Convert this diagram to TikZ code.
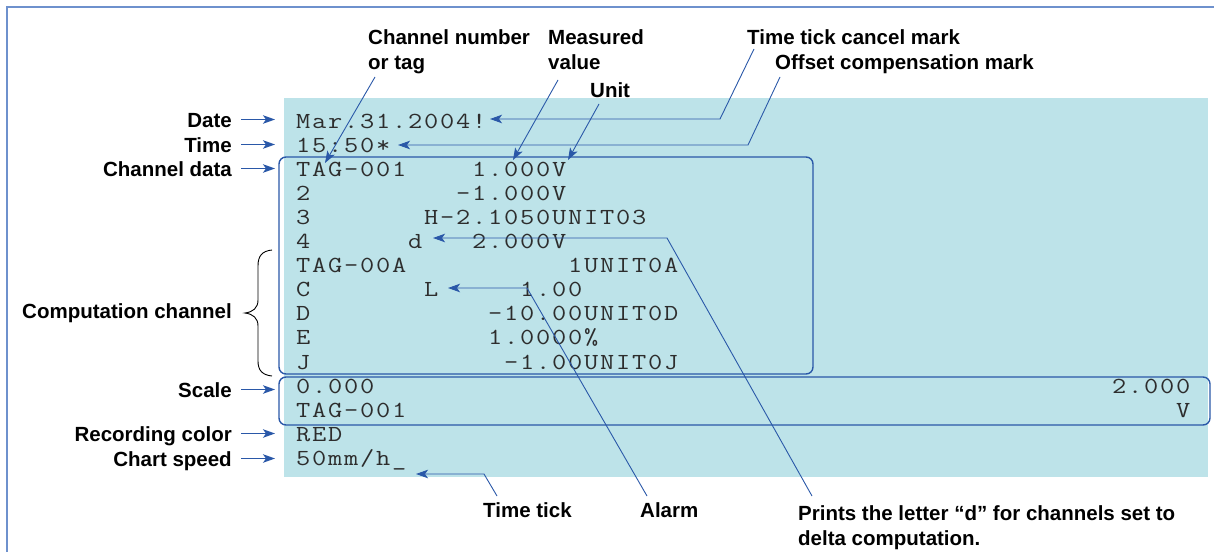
\documentclass[tikz,border=0pt]{standalone}
\usepackage{fontspec}
\usepackage{graphicx}
\setmainfont{Liberation Sans}
\usetikzlibrary{arrows.meta,calc}
\definecolor{panel}{RGB}{189,227,233}
\definecolor{lineblue}{RGB}{42,88,168}
\definecolor{frameblue}{RGB}{110,145,205}
\definecolor{txt}{RGB}{45,45,45}
\newlength\cellw \setlength\cellw{16pt}
\makeatletter
\newcommand\cells[1]{\@tfor\@cc:=#1\do{\makebox[\cellw][c]{\scalebox{1.2}[1]{\@cc}}}}
\makeatother
\newcommand\putmono[4]{\node[mono] (#1) at ({295+16*#2},{128+24.1*#3}) {\cells{#4}};}
\tikzset{
  mono/.style={anchor=base west, inner sep=0pt, text=txt, font=\ttfamily\fontsize{23}{23}\selectfont},
  lab/.style={inner sep=0pt, text=black, font=\bfseries\fontsize{20.5}{25}\selectfont},
  conn/.style={draw=lineblue, line width=1.1pt, -{Stealth[length=12pt,width=8.5pt,inset=3pt]}},
  thin conn/.style={draw=lineblue, line width=0.9pt, -{Stealth[length=12pt,width=8.5pt,inset=3pt]}},
  boxline/.style={draw=lineblue, line width=1.4pt, rounded corners=7pt},
}
\begin{document}
\begin{tikzpicture}[x=1pt,y=-1pt]
\useasboundingbox (0,0) rectangle (1214,551);
\clip (0,0) rectangle (1214,551);
% frame
\draw[frameblue, line width=1.6pt] (7,7) rectangle (1218,565);
% panel
\fill[panel] (284,98) rectangle (1208,477);
% boxes
\draw[boxline] (279,157) rectangle (813,374);
\draw[boxline] (279,377) rectangle (1210,425);
% mono text
\putmono{l0}{0}{0}{Mar.31.2004!}
\putmono{l1}{0}{1}{15:50*}
\putmono{l2a}{0}{2}{TAG-001}
\putmono{l2b}{11}{2}{1.000V}
\putmono{l3a}{0}{3}{2}
\putmono{l3b}{10}{3}{-1.000V}
\putmono{l4a}{0}{4}{3}
\putmono{l4b}{8}{4}{H-2.1050UNIT03}
\putmono{l5a}{0}{5}{4}
\putmono{l5b}{7}{5}{d}
\putmono{l5c}{11}{5}{2.000V}
\putmono{l6a}{0}{6}{TAG-00A}
\putmono{l6b}{17}{6}{1UNIT0A}
\putmono{l7a}{0}{7}{C}
\putmono{l7b}{8}{7}{L}
\putmono{l7c}{14}{7}{1.00}
\putmono{l8a}{0}{8}{D}
\putmono{l8b}{12}{8}{-10.00UNIT0D}
\putmono{l9a}{0}{9}{E}
\putmono{l9b}{12}{9}{1.0000\%}
\putmono{l10a}{0}{10}{J}
\putmono{l10b}{13}{10}{-1.00UNIT0J}
\putmono{l11a}{0}{11}{0.000}
\putmono{l11b}{51}{11}{2.000}
\putmono{l12a}{0}{12}{TAG-001}
\putmono{l12b}{55}{12}{V}
\putmono{l13}{0}{13}{RED}
\putmono{l14}{0}{14}{50mm/h\_}
% left labels
\node[lab, anchor=base east] (date) at (232,127) {Date};
\node[lab, anchor=base east] (time) at (232,152) {Time};
\node[lab, anchor=base east] (chdata) at (232,176) {Channel data};
\node[lab, anchor=base east] (comp) at (232,318) {Computation channel};
\node[lab, anchor=base east] (scale) at (232,397) {Scale};
\node[lab, anchor=base east] (rec) at (232,441) {Recording color};
\node[lab, anchor=base east] (speed) at (232,466) {Chart speed};
\foreach \n in {date,time,chdata,scale,rec,speed}
  \draw[conn] ([shift={(9,-7.5)}]\n.base east) -- ++(34,0);
% brace
\draw[black, line width=0.9pt] (272,250) .. controls (262,251) and (258,256) .. (258,266)
  -- (258,300) .. controls (258,308) and (253,312) .. (245,313)
  .. controls (253,314) and (258,318) .. (258,326)
  -- (258,361) .. controls (258,370) and (262,375) .. (272,376);
% top labels
\node[lab, anchor=base west, align=left] (chnum) at (368,70) {Channel number\\or tag};
\node[lab, anchor=base west, align=left] (meas) at (548,70) {Measured\\value};
\node[lab, anchor=base west] (unit) at (590,97) {Unit};
\node[lab, anchor=base west] (ttc) at (747,45) {Time tick cancel mark};
\node[lab, anchor=base west] (offs) at (775,70) {Offset compensation mark};
% bottom labels
\node[lab, anchor=base west] (ttick) at (483,517) {Time tick};
\node[lab, anchor=base west] (alarm) at (640,517) {Alarm};
\node[lab, anchor=base west, align=left] (prints) at (798,545) {Prints the letter “d” for channels set to\\delta computation.};
% connector coordinates
\coordinate (c1s) at (375,77);  \coordinate (c1e) at (325,163);
\coordinate (c2s) at (558,80);  \coordinate (c2e) at (513,160);
\coordinate (c3s) at (599,104); \coordinate (c3e) at (568,160);
\coordinate (c4s) at (754,49);  \coordinate (c4b) at (720,119); \coordinate (c4e) at (490,119);
\coordinate (c5s) at (780,77);  \coordinate (c5b) at (748,145); \coordinate (c5e) at (398,145);
\coordinate (c6s) at (812,496); \coordinate (c6b) at (667,238); \coordinate (c6e) at (433,238);
\coordinate (c7s) at (647,496); \coordinate (c7b) at (527,288); \coordinate (c7e) at (448,288);
\coordinate (c8s) at (497,496); \coordinate (c8b) at (484,474); \coordinate (c8e) at (416,474);
\draw[thin conn] (c1s) -- (c1e);
\draw[thin conn] (c2s) -- (c2e);
\draw[thin conn] (c3s) -- (c3e);
\draw[thin conn] (c4s) -- (c4b) -- (c4e);
\draw[thin conn] (c5s) -- (c5b) -- (c5e);
\draw[thin conn] (c6s) -- (c6b) -- (c6e);
\draw[thin conn] (c7s) -- (c7b) -- (c7e);
\draw[thin conn] (c8s) -- (c8b) -- (c8e);
\end{tikzpicture}
\end{document}
